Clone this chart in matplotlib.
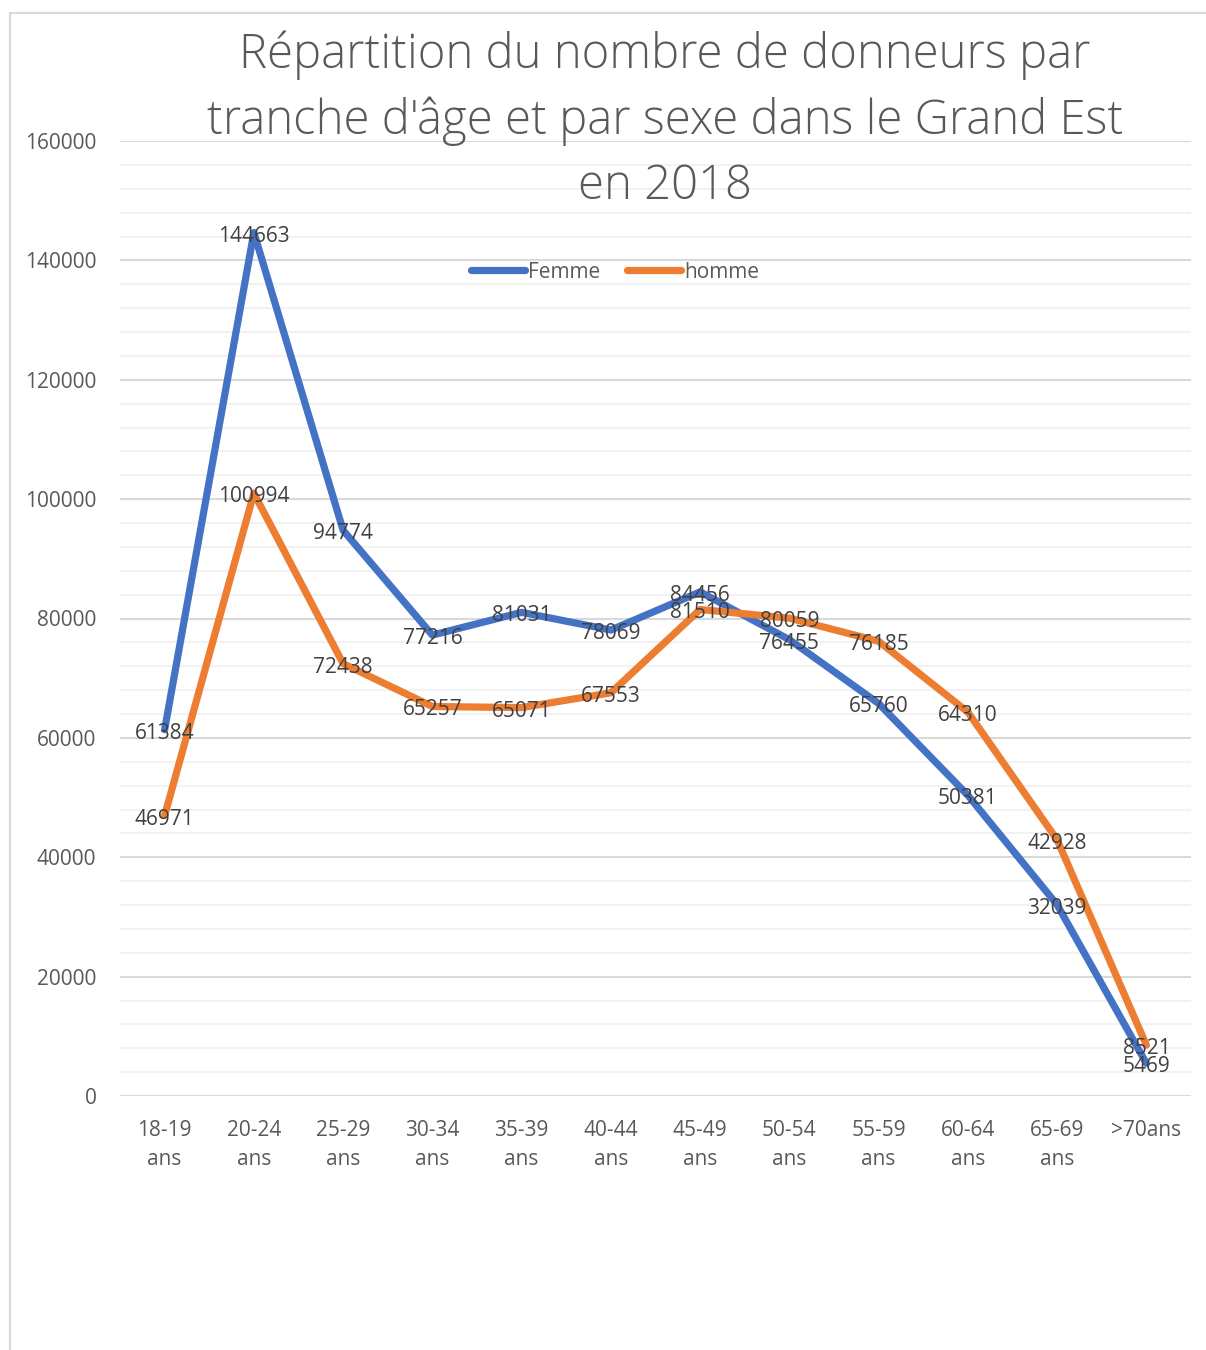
import matplotlib
matplotlib.use("Agg")
import matplotlib.pyplot as plt
from matplotlib.patches import Rectangle
from matplotlib.lines import Line2D
from matplotlib.transforms import offset_copy

categories = ["18-19\nans", "20-24\nans", "25-29\nans", "30-34\nans", "35-39\nans", "40-44\nans",
              "45-49\nans", "50-54\nans", "55-59\nans", "60-64\nans", "65-69\nans", ">70ans"]
femme = [61384, 144663, 94774, 77216, 81031, 78069, 84456, 76455, 65760, 50381, 32039, 5469]
homme = [46971, 100994, 72438, 65257, 65071, 67553, 81510, 80059, 76185, 64310, 42928, 8521]
yticks = [0, 20000, 40000, 60000, 80000, 100000, 120000, 140000, 160000]
title = "Répartition du nombre de donneurs par\ntranche d'âge et par sexe dans le Grand Est\nen 2018"

BLUE = "#4472C4"
ORANGE = "#ED7D31"
W, H = 1206, 1350
plt.rcParams['font.family'] = ['Open Sans', 'DejaVu Sans']

fig = plt.figure(figsize=(W / 100, H / 100), dpi=100)
fig.patches.append(Rectangle((10 / W, -0.1), 1.2, 1 - 13 / H + 0.1, transform=fig.transFigure,
                             fill=False, edgecolor="#d9d9d9", linewidth=1.5))

ax = fig.add_axes([120 / W, 1 - 1096 / H, (1191 - 120) / W, (1096 - 141) / H])
x = list(range(len(categories)))
ax.set_xlim(-0.5, len(categories) - 0.5)
ax.set_ylim(0, 160000)

for v in range(0, 160001, 4000):
    if v % 20000 == 0:
        ax.axhline(v, color="#d9d9d9", linewidth=1.5, zorder=1)
    else:
        ax.axhline(v, color="#f2f2f2", linewidth=1.5, zorder=1)

LW = 5.2
ax.plot(x, femme, color=BLUE, linewidth=LW, solid_capstyle="round", solid_joinstyle="round", zorder=3)
ax.plot(x, homme, color=ORANGE, linewidth=LW, solid_capstyle="round", solid_joinstyle="round", zorder=3)

lab_tr = offset_copy(ax.transData, fig=fig, x=0, y=-2.5, units="points")
for xi, v in zip(x, femme):
    ax.text(xi, v, str(v), ha="center", va="center", fontsize=15, color="#404040", zorder=5,
            transform=lab_tr)
for xi, v in zip(x, homme):
    ax.text(xi, v, str(v), ha="center", va="center", fontsize=15, color="#404040", zorder=5,
            transform=lab_tr)

ax.set_yticks(yticks)
ax.set_yticklabels([str(t) for t in yticks], fontsize=15, color="#595959")
ax.set_xticks(x)
ax.set_xticklabels(categories, fontsize=15, color="#595959", linespacing=1.55)
ax.tick_params(axis="both", length=0)
ax.tick_params(axis="y", pad=17)
ax.tick_params(axis="x", pad=17)
for s in ax.spines.values():
    s.set_visible(False)

fig.text(665 / W, 1 - 121 / H, title, ha="center", va="center", fontsize=34, color="#595959",
         fontweight="light", linespacing=1.45)

handles = [Line2D([0], [0], color=BLUE, linewidth=LW, solid_capstyle="round"),
           Line2D([0], [0], color=ORANGE, linewidth=LW, solid_capstyle="round")]
fig.legend(handles, ["Femme", "homme"], loc="center", bbox_to_anchor=(615 / W, 1 - 272 / H),
           ncol=2, frameon=False, fontsize=15, labelcolor="#595959", handlelength=2.6,
           handletextpad=0.15, columnspacing=1.3)

fig.savefig("out.png", dpi=100, facecolor="white")
